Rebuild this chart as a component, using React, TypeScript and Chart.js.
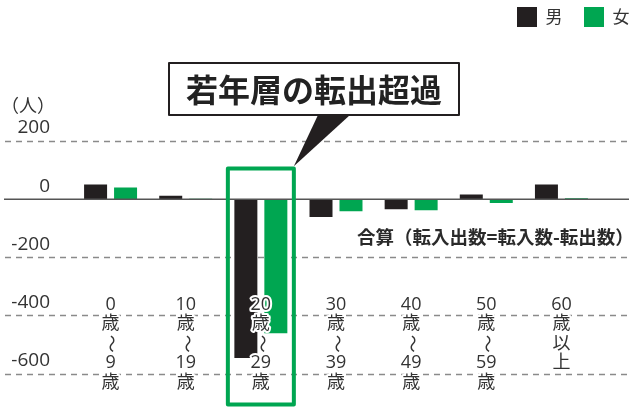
import React, { useEffect, useRef } from "react";
import { Chart, registerables } from "chart.js";

Chart.register(...registerables);

const categories = ["0歳～9歳", "10歳～19歳", "20歳～29歳", "30歳～39歳", "40歳～49歳", "50歳～59歳", "60歳以上"];
const categoryLines = [
  ["0", "歳", "～", "9", "歳"],
  ["10", "歳", "～", "19", "歳"],
  ["20", "歳", "～", "29", "歳"],
  ["30", "歳", "～", "39", "歳"],
  ["40", "歳", "～", "49", "歳"],
  ["50", "歳", "～", "59", "歳"],
  ["60", "歳", "以", "上"],
];
const maleValues = [50, 12, -546, -61, -35, 16, 50];
const femaleValues = [40, 1, -461, -42, -38, -13, 3];
const yTickValues = [200, 0, -200, -400, -600];
const seriesNames = ["男", "女"];
const unitLabel = "（人）";
const calloutText = "若年層の転出超過";
const noteText = "合算（転入出数=転入数-転出数）";
const highlightIndex = 2;

const MALE = "#231f20";
const FEMALE = "#00a651";
const TEXT = "#333333";
const FONT = "'Open Sans', 'Noto Sans CJK JP', sans-serif";
const CJK = "'Noto Sans CJK JP', sans-serif";

const decorPlugin = {
  id: "decor",
  beforeLayout(chart: any) {
    const lg = chart.legend;
    if (lg && !lg._patched) {
      const f = lg.fit;
      lg.fit = function () {
        f.call(this);
        this.height = 141;
      };
      lg._patched = true;
    }
  },
  afterLayout(chart: any) {
    const lg = chart.legend;
    if (lg) {
      lg.left += 52;
      lg.right += 52;
      lg.top -= 14.5;
      lg.bottom -= 14.5;
    }
  },
  beforeDatasetsDraw(chart: any) {
    const { ctx } = chart;
    const y = chart.scales.y;
    ctx.save();
    ctx.strokeStyle = "#8a8a8a";
    ctx.lineWidth = 1.5;
    ctx.setLineDash([6, 5]);
    yTickValues.forEach((v) => {
      if (v === 0) return;
      const py = Math.round(y.getPixelForValue(v)) + 0.5;
      ctx.beginPath();
      ctx.moveTo(5, py);
      ctx.lineTo(chart.width, py);
      ctx.stroke();
    });
    ctx.restore();
  },
  afterDatasetsDraw(chart: any) {
    const { ctx } = chart;
    const x = chart.scales.x;
    const y = chart.scales.y;
    const y0 = y.getPixelForValue(0);
    ctx.save();
    // zero line
    ctx.strokeStyle = "#555555";
    ctx.lineWidth = 1.5;
    ctx.beginPath();
    ctx.moveTo(4, y0);
    ctx.lineTo(chart.width, y0);
    ctx.stroke();

    // category labels (vertical)
    ctx.font = `18px ${FONT}`;
    ctx.textAlign = "center";
    ctx.textBaseline = "middle";
    ctx.lineJoin = "round";
    const firstLine = y0 + 105.5;
    const lineStep = 19.5;
    categoryLines.forEach((lines, i) => {
      const cx = x.getPixelForValue(i);
      lines.forEach((t, j) => {
        const cy = firstLine + j * lineStep;
        ctx.save();
        ctx.translate(cx, cy);
        if (t === "～") ctx.rotate(Math.PI / 2);
        ctx.strokeStyle = "#ffffff";
        ctx.lineWidth = 4;
        ctx.strokeText(t, 0, 0);
        ctx.fillStyle = TEXT;
        ctx.fillText(t, 0, 0);
        ctx.restore();
      });
    });

    // highlight rectangle
    const hx = x.getPixelForValue(highlightIndex);
    ctx.strokeStyle = FEMALE;
    ctx.lineWidth = 4;
    ctx.strokeRect(hx - 33, y0 - 30.7, 66, 236);

    // callout pointer
    ctx.fillStyle = MALE;
    ctx.beginPath();
    ctx.moveTo(318, 115);
    ctx.lineTo(350, 115);
    ctx.lineTo(hx + 33, y0 - 33);
    ctx.closePath();
    ctx.fill();

    // callout box
    ctx.fillStyle = "#ffffff";
    ctx.fillRect(169, 63, 290, 52);
    ctx.strokeStyle = MALE;
    ctx.lineWidth = 2;
    ctx.strokeRect(169, 63, 290, 52);
    ctx.fillStyle = "#222222";
    ctx.font = `bold 32px ${CJK}`;
    ctx.textAlign = "center";
    ctx.fillText(calloutText, 314, 90);

    // note
    ctx.font = `bold 18.5px ${CJK}`;
    ctx.textAlign = "left";
    ctx.fillStyle = "#2a2a2a";
    ctx.fillText(noteText, 357, 237);

    // unit
    ctx.font = `18px ${CJK}`;
    ctx.fillStyle = TEXT;
    ctx.fillText(unitLabel, 1, 105);
    ctx.restore();
  },
};

export default function App() {
  const ref = useRef<HTMLCanvasElement | null>(null);
  useEffect(() => {
    if (!ref.current) return;
    const chart = new Chart(ref.current, {
      type: "bar",
      data: {
        labels: categories,
        datasets: [
          { label: seriesNames[0], data: maleValues, backgroundColor: MALE, borderWidth: 0 },
          { label: seriesNames[1], data: femaleValues, backgroundColor: FEMALE, borderWidth: 0 },
        ],
      },
      options: {
        animation: false,
        responsive: true,
        maintainAspectRatio: false,
        layout: { padding: { top: 0, left: 0, right: 30, bottom: 34 } },
        datasets: { bar: { categoryPercentage: 0.798, barPercentage: 0.767 } },
        plugins: {
          tooltip: { enabled: false },
          legend: {
            position: "top",
            align: "end",
            labels: {
              boxWidth: 20,
              boxHeight: 20,
              padding: 21.5,
              color: TEXT,
              font: { size: 17, family: CJK },
            },
          },
        },
        scales: {
          x: { display: false },
          y: {
            min: -600,
            max: 200,
            afterFit: (s: any) => {
              s.width = 73;
            },
            afterBuildTicks: (s: any) => {
              s.ticks = yTickValues.map((v) => ({ value: v }));
            },
            grid: { display: false, drawTicks: false },
            border: { display: false },
            ticks: {
              padding: 23,
              labelOffset: -13,
              color: TEXT,
              font: { size: 19, family: FONT },
            },
          },
        },
      },
      plugins: [decorPlugin],
    });
    return () => chart.destroy();
  }, []);
  return (
    <div style={{ position: "absolute", left: 0, top: 0, width: 629, height: 408 }}>
      <canvas ref={ref} />
    </div>
  );
}
